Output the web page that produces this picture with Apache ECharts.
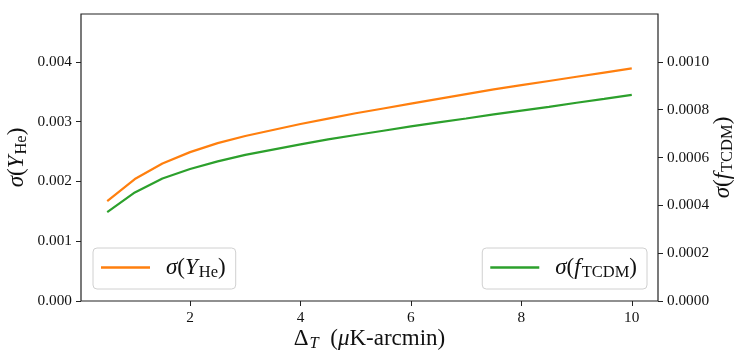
<!DOCTYPE html>
<html>
<head>
<meta charset="utf-8">
<script src="https://cdn.jsdelivr.net/npm/echarts@6/dist/echarts.min.js"></script>
<style>
  html, body { margin: 0; padding: 0; background: #fff; }
  #chart { width: 747px; height: 359px; }
</style>
</head>
<body>
<div id="chart"></div>
<script>
// noise level Delta_T (uK-arcmin)
const deltaT = [0.5, 1, 1.5, 2, 2.5, 3, 3.5, 4, 4.5, 5, 5.5, 6, 6.5, 7, 7.5, 8, 8.5, 9, 9.5, 10]
// sigma(Y_He), left axis
const sigmaYHe = [0.00167, 0.00204, 0.00230, 0.00249, 0.00264, 0.00276, 0.00286, 0.00296, 0.00305, 0.00314,
  0.00322, 0.00330, 0.00338, 0.00346, 0.00354, 0.00361, 0.00368, 0.00375, 0.00382, 0.00389]
// sigma(f_TCDM), right axis
const sigmaFTCDM = [0.000372, 0.000454, 0.000512, 0.000552, 0.000584, 0.000611, 0.000633, 0.000655, 0.000676, 0.000694,
  0.000712, 0.000730, 0.000747, 0.000763, 0.000780, 0.000796, 0.000812, 0.000829, 0.000845, 0.000862]

const xTicks = [2, 4, 6, 8, 10]
const leftTicks = [0, 0.001, 0.002, 0.003, 0.004]
const rightTicks = [0, 0.0002, 0.0004, 0.0006, 0.0008, 0.0010]

const serif = 'Liberation Serif'
const axisColor = '#222'
const orange = '#ff7f0e'
const green = '#2ca02c'

const mathRich = {
  n: { fontFamily: serif, fontSize: 23, color: '#111' },
  i: { fontFamily: serif, fontSize: 23, fontStyle: 'italic', color: '#111' },
  s: { fontFamily: serif, fontSize: 16.5, color: '#111', padding: [10, 0, 0, 1] },
  si: { fontFamily: serif, fontSize: 16.5, fontStyle: 'italic', color: '#111', padding: [10, 0, 0, 1] },
  gap: { fontSize: 20, width: 11 }
}

const chart = echarts.init(document.getElementById('chart'))

const tickLabel = { fontFamily: serif, fontSize: 15.3, color: '#111' }

chart.setOption({
  animation: false,
  grid: {
    left: 81, right: 89, top: 14, bottom: 58,
    outerBoundsMode: 'none',
    containLabel: false,
    show: true, borderColor: axisColor, borderWidth: 1.2
  },
  xAxis: {
    type: 'value',
    min: 0.025,
    max: 10.475,
    name: '{n|Δ}{si|T}{n|  (}{i|μ}{n|K-arcmin)}',
    nameLocation: 'middle',
    nameGap: 24,
    nameMoveOverlap: false,
    nameTextStyle: { rich: mathRich },
    axisLine: { show: false },
    axisTick: { show: true, length: 5, customValues: xTicks, lineStyle: { color: axisColor } },
    axisLabel: { ...tickLabel, margin: 9, customValues: xTicks, formatter: (v) => String(v) },
    splitLine: { show: false }
  },
  yAxis: [
    {
      type: 'value',
      min: 0,
      max: 0.0048,
      position: 'left',
      name: '{i|σ}{n|(}{i|Y}{s|He}{n|)}',
      nameLocation: 'middle',
      nameRotate: 90,
      nameGap: 51,
      nameMoveOverlap: false,
      nameTextStyle: { rich: mathRich },
      axisLine: { show: false },
      axisTick: { show: true, length: 5, customValues: leftTicks, lineStyle: { color: axisColor } },
      axisLabel: { ...tickLabel, margin: 9, customValues: leftTicks, formatter: (v) => v.toFixed(3) },
      splitLine: { show: false }
    },
    {
      type: 'value',
      min: 0,
      max: 0.0012,
      position: 'right',
      name: '{i|σ}{n|(}{i|f}{s|TCDM}{n|)}',
      nameLocation: 'middle',
      nameRotate: 90,
      nameGap: 51,
      nameMoveOverlap: false,
      nameTextStyle: { rich: mathRich },
      axisLine: { show: false },
      axisTick: { show: true, length: 5, customValues: rightTicks, lineStyle: { color: axisColor } },
      axisLabel: { ...tickLabel, margin: 9, customValues: rightTicks, formatter: (v) => v.toFixed(4) },
      splitLine: { show: false }
    }
  ],
  legend: [
    {
      data: ['yhe'],
      left: 93,
      top: 248,
      icon: 'rect',
      itemWidth: 49,
      itemHeight: 2.5,
      padding: [8, 10, 8, 8],
      borderColor: '#d0d0d0',
      borderWidth: 1,
      borderRadius: 4,
      backgroundColor: 'rgba(255,255,255,0.8)',
      formatter: () => '{gap|}{i|σ}{n|(}{i|Y}{s|He}{n|)}',
      textStyle: { rich: mathRich }
    },
    {
      data: ['ftcdm'],
      right: 100,
      top: 248,
      icon: 'rect',
      itemWidth: 49,
      itemHeight: 2.5,
      padding: [8, 10, 8, 8],
      borderColor: '#d0d0d0',
      borderWidth: 1,
      borderRadius: 4,
      backgroundColor: 'rgba(255,255,255,0.8)',
      formatter: () => '{gap|}{i|σ}{n|(}{i|f}{s|TCDM}{n|)}',
      textStyle: { rich: mathRich }
    }
  ],
  series: [
    {
      name: 'yhe',
      type: 'line',
      yAxisIndex: 0,
      data: deltaT.map((x, k) => [x, sigmaYHe[k]]),
      showSymbol: false,
      lineStyle: { color: orange, width: 2.2 },
      itemStyle: { color: orange }
    },
    {
      name: 'ftcdm',
      type: 'line',
      yAxisIndex: 1,
      data: deltaT.map((x, k) => [x, sigmaFTCDM[k]]),
      showSymbol: false,
      lineStyle: { color: green, width: 2.2 },
      itemStyle: { color: green }
    }
  ]
})
</script>
</body>
</html>
